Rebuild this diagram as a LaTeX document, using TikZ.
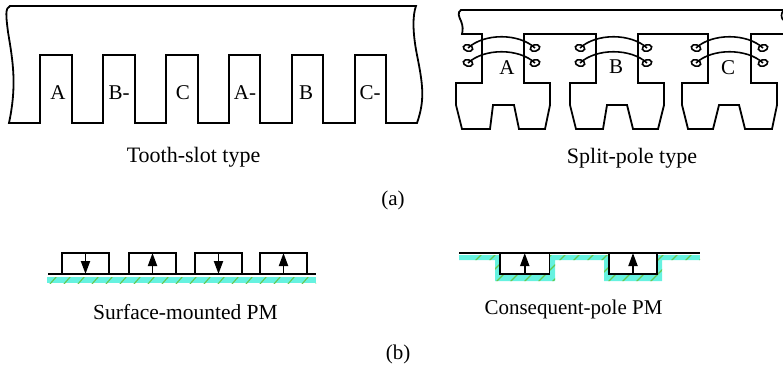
\documentclass[tikz,border=0pt]{standalone}
\usepackage{fontspec}
\setmainfont{Liberation Serif}
\usetikzlibrary{arrows.meta}
\definecolor{pmcyan}{HTML}{66F2E0}
\definecolor{pmgreen}{HTML}{66C850}
\tikzset{
  outline/.style={line width=1.8pt,line join=miter,black},
  thinout/.style={line width=1.6pt,black},
  lab/.style={font=\fontsize{21}{24}\selectfont,inner sep=0pt},
  captext/.style={font=\fontsize{21}{24}\selectfont,inner sep=0pt},
  captextb/.style={font=\fontsize{22}{24}\selectfont,inner sep=0pt},
  magnet/.style={draw,line width=1.8pt,minimum width=47pt,minimum height=21pt,inner sep=0pt,outer sep=0pt},
  magarrow/.style={line width=1.9pt,-{Triangle[length=13pt,width=9pt]},shorten >=0pt},
  hatchline/.style={pmgreen,line width=1.1pt}
}
\begin{document}
\begin{tikzpicture}[x=1pt,y=-1pt]
\useasboundingbox (0,0) rectangle (783,365);
% tooth-slot stator
\draw[outline] (417,123) .. controls (425,100) and (423,85) .. (417,55)
  .. controls (412,30) and (413,14) .. (416,6) -- (10,6)
  .. controls (5,8) and (6,16) .. (8,32)
  .. controls (13,62) and (17,85) .. (9,123)
  -- (40,123) -- (40,55) -- (72,55) -- (72,123) -- (103,123) -- (103,55) -- (135,55)
  -- (135,123) -- (166,123) -- (166,55) -- (198,55) -- (198,123) -- (229,123)
  -- (229,55) -- (260,55) -- (260,123) -- (292,123) -- (292,55) -- (323,55)
  -- (323,123) -- (355,123) -- (355,55) -- (386,55) -- (386,123) -- cycle;
\node[lab] (ta) at (58,93) {A};
\node[lab] (tb) at (119,93) {B-};
\node[lab] (tc) at (183,93) {C};
\node[lab] (tam) at (245,93) {A-};
\node[lab] (tbp) at (306,93) {B};
\node[lab] (tcm) at (370,93) {C-};
% split-pole stator
\draw[outline] (783,10) -- (461,10) .. controls (457,12) and (459,17) .. (461,21)
  .. controls (463,26) and (463,30) .. (462,34) -- (482,34) -- (482,83) -- (456,83) -- (456,105)
  -- (462,129) -- (490,129) -- (493,105) -- (514,105) -- (519,129) -- (545,129)
  -- (550,105) -- (550,83) -- (524,83) -- (524,34) -- (596,34) -- (596,83)
  -- (570,83) -- (570,105) -- (576,129) -- (603,129) -- (607,105) -- (627,105)
  -- (633,129) -- (658,129) -- (664,105) -- (664,83) -- (638,83) -- (638,34)
  -- (708,34) -- (708,83) -- (682,83) -- (682,105) -- (688,129) -- (713,129)
  -- (719,105) -- (739,105) -- (745,129) -- (772,129) -- (777,105) -- (777,83)
  -- (751,83) -- (751,34) -- (783,34);
\draw[thinout] (783,11) .. controls (781,14) and (781,17) .. (783,20);
\foreach \n/\xl/\xr in {a/468/535,b/580/647,c/696/763}{
  \foreach \m/\yy in {u/48,d/63}{
    \coordinate (l\n\m) at (\xl,\yy);
    \coordinate (r\n\m) at (\xr,\yy);
    \draw[thinout] (l\n\m) ellipse[x radius=4.8pt,y radius=3.2pt,rotate=-15];
    \draw[thinout] (r\n\m) ellipse[x radius=4.8pt,y radius=3.2pt,rotate=15];
    \draw[thinout] (l\n\m) .. controls +(16,-15) and +(-16,-15) .. (r\n\m);
  }
}
\node[lab] (sa) at (507,68) {A};
\node[lab] (sb) at (616,67) {B};
\node[lab] (sc) at (728,68) {C};
\node[captextb] (c1) at (193.5,157) {Tooth-slot type};
\node[captextb] (c2) at (632,158) {Split-pole type};
\node[captext] (c3) at (393,200) {(a)};
% surface-mounted
\fill[pmcyan] (47,277) rectangle (316,283);
\begin{scope}
\clip (47,277) rectangle (316,283);
\foreach \x in {50,64,...,316}{\draw[hatchline] (\x,284) -- (\x+7,276);}
\end{scope}
\coordinate (sl) at (48,274);
\coordinate (sr) at (316,274);
\draw[line width=1.6pt] (sl) -- (sr);
\foreach \n/\x in {1/85.5,2/152.5,3/218.5,4/283.5}{
  \node[magnet] (m\n) at (\x,263.5) {};
}
\draw[magarrow] (m1.north) -- (m1.south);
\draw[magarrow] (m2.south) -- (m2.north);
\draw[magarrow] (m3.north) -- (m3.south);
\draw[magarrow] (m4.south) -- (m4.north);
\node[captext,font=\fontsize{21.5}{24}\selectfont] (c4) at (185.5,312) {Surface-mounted PM};
% consequent-pole
\begin{scope}
\path[clip] (459,255) -- (700,255) -- (700,260) -- (662,260) -- (662,281) -- (604,281) -- (604,260) -- (555,260) -- (555,281) -- (495,281) -- (495,260) -- (459,260) -- cycle;
\fill[pmcyan] (459,250) rectangle (700,285);
\foreach \x in {452,466,...,700}{\draw[hatchline] (\x,284) -- (\x+31,253);}
\fill[white] (500,255) rectangle (550,274);
\fill[white] (609,255) rectangle (657,274);
\end{scope}
\coordinate (cl) at (459,253);
\coordinate (cr) at (700,253);
\draw[line width=1.6pt] (cl) -- (cr);
\node[magnet,minimum width=49.5pt] (q1) at (524.75,263.5) {};
\node[magnet,minimum width=48pt] (q2) at (633,263.5) {};
\draw[magarrow] (q1.south) -- (q1.north);
\draw[magarrow] (q2.south) -- (q2.north);
\node[captext] (c5) at (573.5,309) {Consequent-pole PM};
\node[captext] (c6) at (398,354) {(b)};
\end{tikzpicture}
\end{document}
